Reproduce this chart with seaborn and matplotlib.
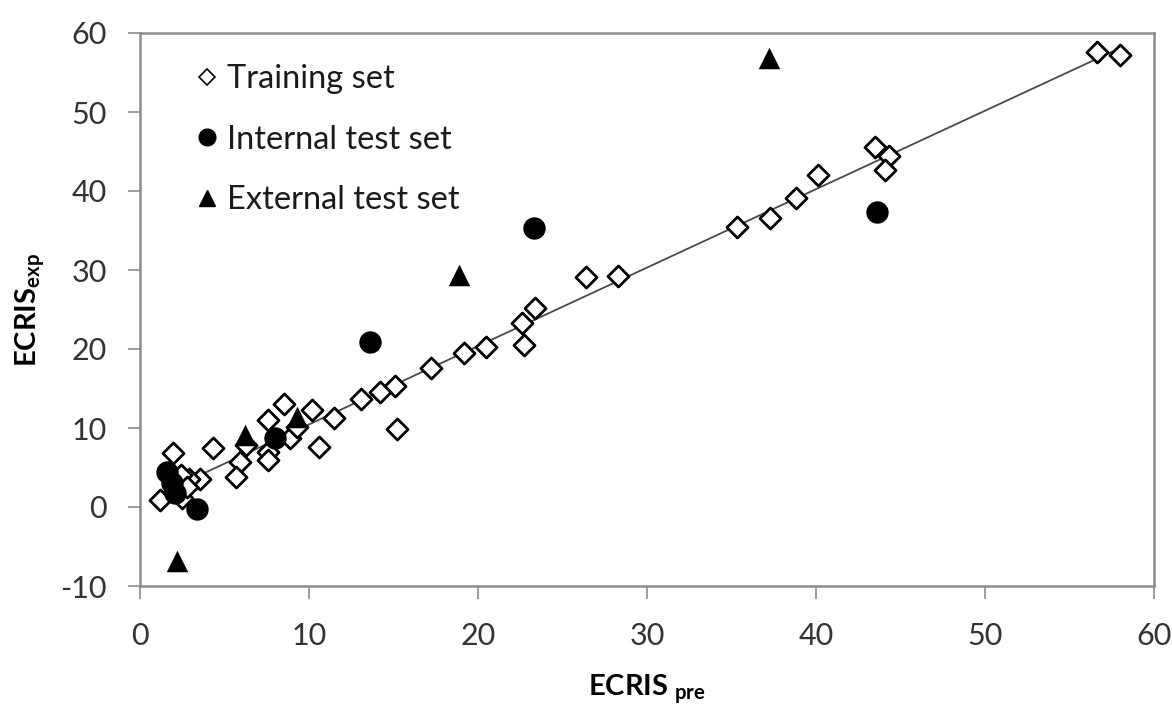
import matplotlib
matplotlib.use("Agg")
import matplotlib.pyplot as plt
from matplotlib.lines import Line2D
import seaborn as sns
import pandas as pd
import numpy as np

# ---- data ----
train_x = [56.6, 58.0, 43.5, 44.3, 44.1, 40.1, 38.8, 37.3, 35.3, 28.3, 26.4, 23.4, 22.6, 22.7,
           20.5, 19.2, 17.2, 15.1, 14.2, 13.1, 15.2, 11.5, 10.2, 10.6, 8.5, 7.6, 8.9, 9.3,
           1.95, 4.3, 5.9, 5.7, 7.6, 7.6, 6.3, 3.55, 2.9, 2.4, 1.2, 2.5, 2.0, 2.8]
train_y = [57.6, 57.2, 45.6, 44.4, 42.7, 42.0, 39.1, 36.6, 35.4, 29.2, 29.1, 25.2, 23.3, 20.5,
           20.3, 19.5, 17.6, 15.3, 14.6, 13.7, 9.9, 11.3, 12.3, 7.6, 13.0, 11.0, 8.7, 10.1,
           6.8, 7.5, 5.7, 3.8, 7.0, 6.0, 7.8, 3.6, 3.6, 4.0, 0.9, 1.1, 2.5, 2.5]
internal_x = [1.6, 1.9, 2.1, 3.4, 8.0, 13.6, 23.3, 43.6]
internal_y = [4.4, 3.0, 1.8, -0.2, 8.7, 20.9, 35.3, 37.3]
external_x = [2.2, 6.2, 9.3, 18.9, 37.2]
external_y = [-6.8, 9.1, 11.4, 29.4, 56.8]
legend_labels = ["Training set", "Internal test set", "External test set"]
x_ticks = [0, 10, 20, 30, 40, 50, 60]
y_ticks = [-10, 0, 10, 20, 30, 40, 50, 60]

sns.set_theme(style="white")
plt.rcParams['font.family'] = ['Lato', 'DejaVu Sans']
plt.rcParams['axes.unicode_minus'] = False
plt.rcParams['mathtext.fontset'] = 'custom'
plt.rcParams['mathtext.rm'] = 'Lato'
plt.rcParams['mathtext.bf'] = 'Lato:bold'

fig = plt.figure(figsize=(11.72, 7.11), dpi=100)
ax = fig.add_axes([140/1172, 1-586/711, (1154-140)/1172, (586-33)/711])

df_train = pd.DataFrame({"x": train_x, "y": train_y})
df_int = pd.DataFrame({"x": internal_x, "y": internal_y})
df_ext = pd.DataFrame({"x": external_x, "y": external_y})

sns.regplot(data=df_train, x="x", y="y", scatter=False, ci=None, ax=ax,
            line_kws=dict(color="#4a4a4a", linewidth=1.3, zorder=2))
sns.scatterplot(data=df_train, x="x", y="y", marker="D", s=115, facecolor="white",
                edgecolor="black", linewidth=2.0, ax=ax, zorder=3)
sns.scatterplot(data=df_int, x="x", y="y", marker="o", s=260, color="black",
                edgecolor="black", linewidth=0, ax=ax, zorder=4)
sns.scatterplot(data=df_ext, x="x", y="y", marker="^", s=240, color="black",
                edgecolor="black", linewidth=0, ax=ax, zorder=4)

ax.set_xlim(0, 60)
ax.set_ylim(-10, 60)
ax.set_xticks(x_ticks)
ax.set_yticks(y_ticks)
ax.tick_params(axis='both', which='major', labelsize=22, labelcolor="#333333",
               direction='out', length=9, width=1.2, color="#8c8c8c",
               bottom=True, left=True)
ax.tick_params(axis='y', pad=15)
ax.tick_params(axis='x', pad=17)
for sp in ax.spines.values():
    sp.set_color("#8c8c8c")
    sp.set_linewidth(1.8)
    sp.set_visible(True)

ax.set_xlabel(r"$\mathbf{ECRIS}_{\ \mathbf{pre}}$", fontsize=21, labelpad=16, color="black")
ax.set_ylabel(r"$\mathbf{ECRIS}_{\mathbf{exp}}$", fontsize=21, labelpad=9, color="black")

handles = [
    Line2D([], [], linestyle="none", marker="D", markersize=8.5, markerfacecolor="white",
           markeredgecolor="black", markeredgewidth=1.2),
    Line2D([], [], linestyle="none", marker="o", markersize=12, color="black"),
    Line2D([], [], linestyle="none", marker="^", markersize=12, color="black"),
]
leg = ax.legend(handles, legend_labels, loc="upper left", bbox_to_anchor=(0.0435, 0.967),
                frameon=False, fontsize=23.5, handlelength=0.6, handletextpad=0.31,
                labelspacing=0.93, borderaxespad=0)
for t in leg.get_texts():
    t.set_color("#1a1a1a")

fig.savefig("out.png", dpi=100)
